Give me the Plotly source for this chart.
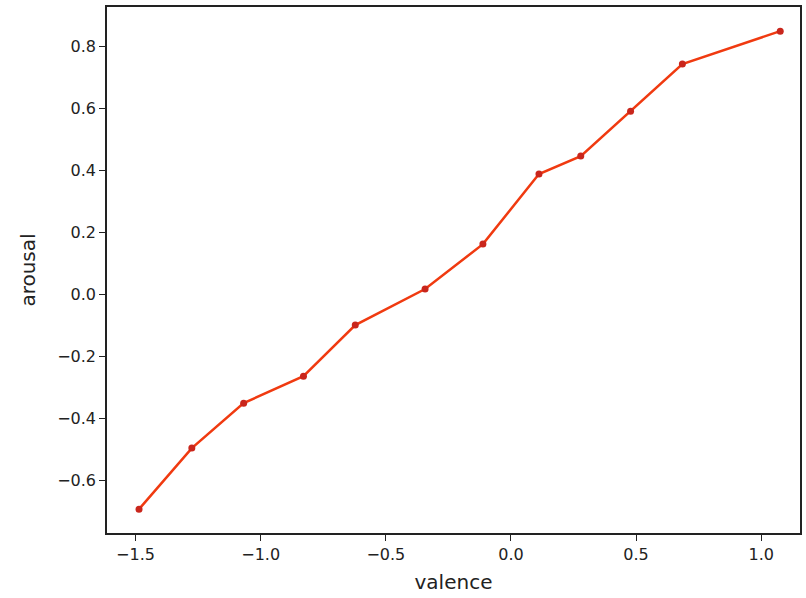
import plotly.graph_objects as go

valence = [-1.486, -1.275, -1.068, -0.829, -0.622, -0.343, -0.112, 0.112, 0.279, 0.478, 0.685, 1.076]
arousal = [-0.694, -0.497, -0.352, -0.265, -0.100, 0.016, 0.161, 0.387, 0.445, 0.590, 0.742, 0.848]

x_ticks = [-1.5, -1.0, -0.5, 0.0, 0.5, 1.0]
x_labels = ["\u22121.5", "\u22121.0", "\u22120.5", "0.0", "0.5", "1.0"]
y_ticks = [-0.6, -0.4, -0.2, 0.0, 0.2, 0.4, 0.6, 0.8]
y_labels = ["\u22120.6", "\u22120.4", "\u22120.2", "0.0", "0.2", "0.4", "0.6", "0.8"]

fig = go.Figure()
fig.add_trace(go.Scatter(
    x=valence, y=arousal, mode="lines+markers",
    line=dict(color="#f03a10", width=2.5),
    marker=dict(color="#c9261c", size=7),
))

font = dict(family="DejaVu Sans", size=16, color="#222")
fig.update_layout(
    width=806, height=598,
    margin=dict(l=107, r=4, t=7, b=65),
    paper_bgcolor="white", plot_bgcolor="white",
    showlegend=False,
    font=font,
)
fig.update_xaxes(
    range=[-1.614, 1.155], tickvals=x_ticks, ticktext=x_labels,
    showgrid=False, zeroline=False, showline=True, linecolor="#222", linewidth=1.5,
    mirror=True, ticks="outside", ticklen=6, tickcolor="#222",
    title=dict(text="valence", font=dict(family="DejaVu Sans", size=20, color="#222"), standoff=12),
)
fig.update_yaxes(
    range=[-0.771, 0.926], tickvals=y_ticks, ticktext=y_labels,
    showgrid=False, zeroline=False, showline=True, linecolor="#222", linewidth=1.5,
    mirror=True, ticks="outside", ticklen=6, tickcolor="#222",
    title=dict(text="arousal", font=dict(family="DejaVu Sans", size=20, color="#222"), standoff=16),
)

fig.write_html("out.html")
